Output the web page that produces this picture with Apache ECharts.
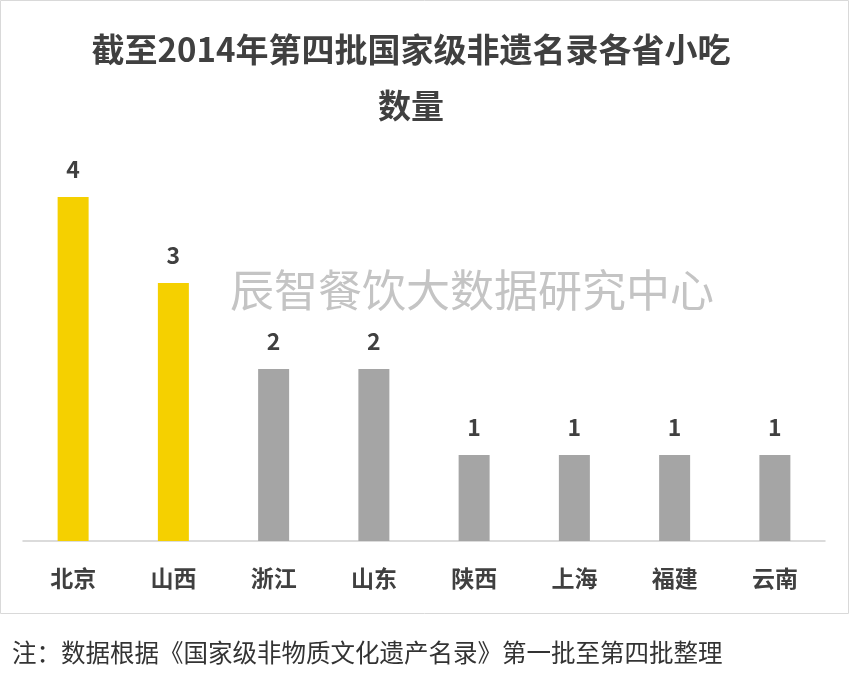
<!DOCTYPE html>
<html><head><meta charset="utf-8">
<script src="https://cdn.jsdelivr.net/npm/echarts@6/dist/echarts.min.js"></script>
<style>body{margin:0;background:#fff}#c{width:850px;height:686px}</style>
</head><body><div id="c"></div>
<script>
const provinces = ['北京','山西','浙江','山东','陕西','上海','福建','云南']
const counts = [4,3,2,2,1,1,1,1]
const highlight = [true,true,false,false,false,false,false,false]

const chart = echarts.init(document.getElementById('c'))
const font = '"Noto Sans CJK SC", sans-serif'
chart.setOption({
  animation: false,
  title: {
    text: '截至2014年第四批国家级非遗名录各省小吃\n数量',
    left: 406, top: 16, textAlign: 'center',
    textStyle: {fontFamily: font, fontSize: 33, fontWeight: 'bold', color: '#404040', lineHeight: 56}
  },
  graphic: [
    {type: 'rect', shape: {x: 0.5, y: 0.5, width: 848, height: 613}, style: {fill: 'none', stroke: '#d9d9d9', lineWidth: 1}},
    {type: 'text', left: 230, top: 268, style: {text: '辰智餐饮大数据研究中心', font: '44px "Noto Sans CJK SC"', fill: '#c4c4c4'}},
    {type: 'text', left: 12, top: 640, style: {text: '注：数据根据《国家级非物质文化遗产名录》第一批至第四批整理', font: '24.5px "Noto Sans CJK SC"', fill: '#333'}}
  ],
  grid: {left: 23, right: 25, top: 197, bottom: 145},
  xAxis: {
    type: 'category', data: provinces,
    axisLine: {lineStyle: {color: '#d0d0d0', width: 1.5}},
    axisTick: {show: false},
    axisLabel: {fontFamily: font, fontSize: 23, fontWeight: 'bold', color: '#404040', margin: 26}
  },
  yAxis: {type: 'value', min: 0, max: 4, show: false, splitLine: {show: false}},
  series: [{
    type: 'bar', barWidth: 31,
    data: counts.map((v, i) => ({value: v, itemStyle: {color: highlight[i] ? '#F5D000' : '#A5A5A5'}})),
    label: {show: true, position: 'top', distance: 16, fontFamily: font, fontSize: 23, fontWeight: 'bold', color: '#404040'}
  }]
})
</script></body></html>
